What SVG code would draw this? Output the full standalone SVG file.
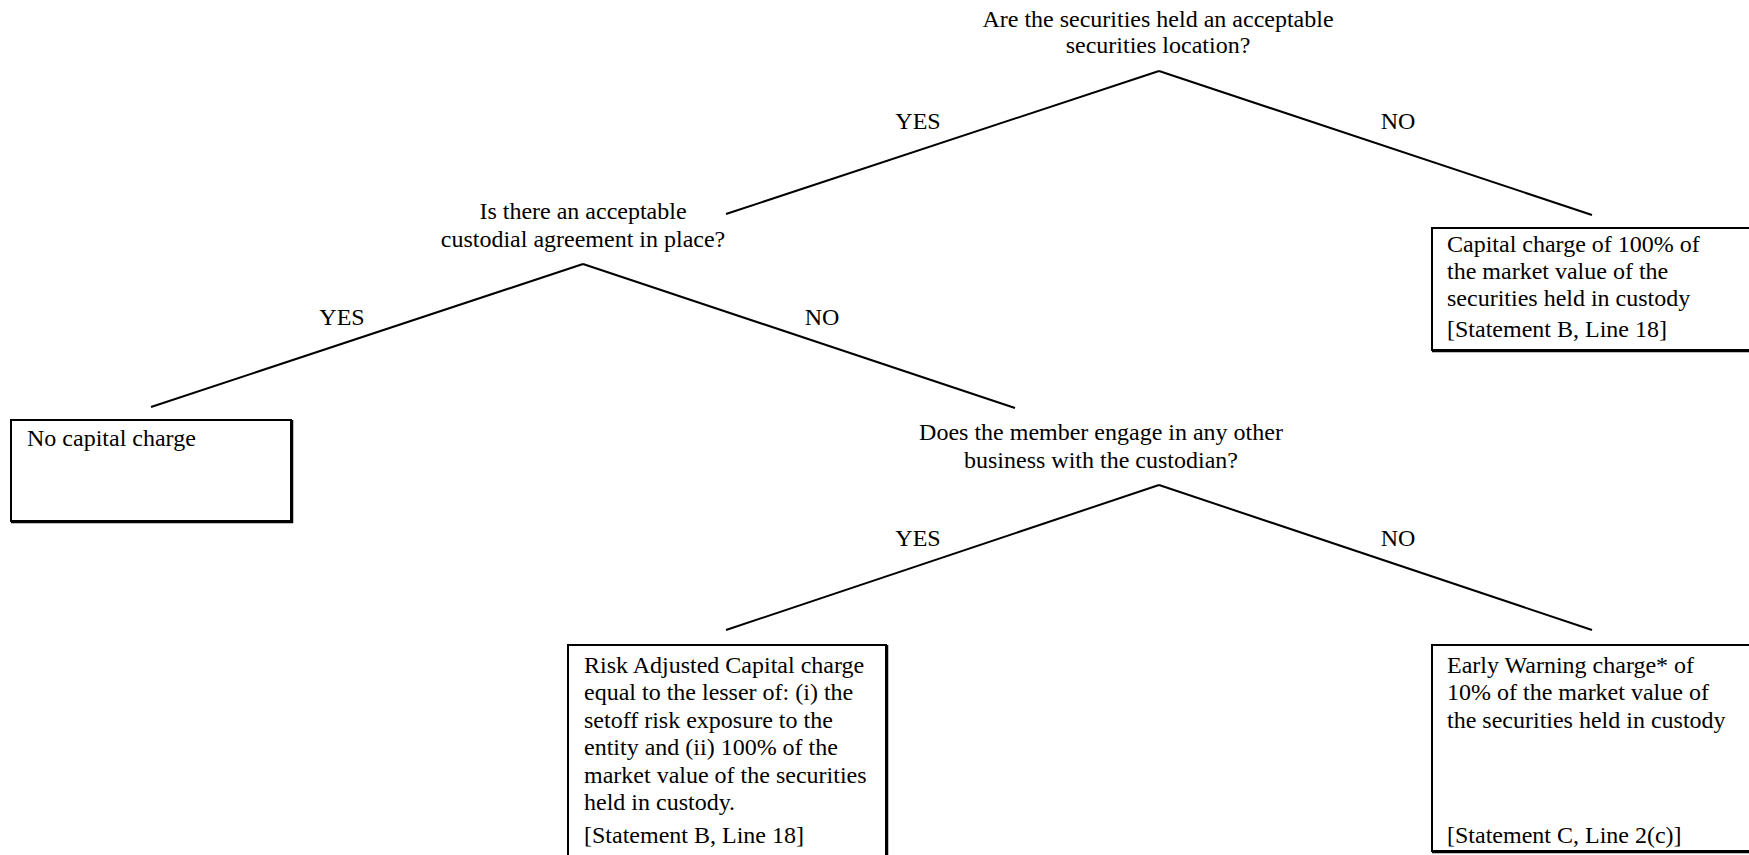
<svg xmlns="http://www.w3.org/2000/svg" width="1749" height="855" viewBox="0 0 1749 855">
<style>
text{font-family:"Liberation Serif","Times New Roman",serif;font-size:24px;fill:#000}
.c{text-anchor:middle}
.box{fill:#fff;stroke:#000;stroke-width:2}
.sh{fill:none;stroke:#000;stroke-width:1.5}
.ln{stroke:#000;stroke-width:2;fill:none}
</style>
<rect width="1749" height="855" fill="#fff"/>
<g id="connectors">
<line class="ln" x1="1159" y1="71" x2="726" y2="214"/>
<line class="ln" x1="1159" y1="71" x2="1592" y2="215"/>
<line class="ln" x1="583" y1="264" x2="151" y2="407"/>
<line class="ln" x1="583" y1="264" x2="1015" y2="408"/>
<line class="ln" x1="1159" y1="485" x2="726" y2="630"/>
<line class="ln" x1="1159" y1="485" x2="1592" y2="630"/>
<text class="c" x="918" y="129">YES</text>
<text class="c" x="1398" y="129">NO</text>
<text class="c" x="342" y="325">YES</text>
<text class="c" x="822" y="325">NO</text>
<text class="c" x="918" y="546">YES</text>
<text class="c" x="1398" y="546">NO</text>
</g>
<g id="q1">
<text class="c" x="1158" y="27">Are the securities held an acceptable</text>
<text class="c" x="1158" y="53">securities location?</text>
</g>
<g id="q2">
<text class="c" x="583" y="219">Is there an acceptable</text>
<text class="c" x="583" y="247">custodial agreement in place?</text>
</g>
<g id="q3">
<text class="c" x="1101" y="440">Does the member engage in any other</text>
<text class="c" x="1101" y="468">business with the custodian?</text>
</g>
<g id="no-charge">
<rect class="box" x="11" y="420" width="280" height="101"/>
<path class="sh" d="M292.5 420 V522.5 H11"/>
<text x="27" y="446">No capital charge</text>
</g>
<g id="full-charge">
<rect class="box" x="1432" y="228" width="340" height="122"/>
<path class="sh" d="M1432 351.5 H1760"/>
<text x="1447" y="252">Capital charge of 100% of</text>
<text x="1447" y="279">the market value of the</text>
<text x="1447" y="306">securities held in custody</text>
<text x="1447" y="337">[Statement B, Line 18]</text>
</g>
<g id="risk-adjusted">
<rect class="box" x="568" y="645" width="318" height="230"/>
<path class="sh" d="M887.5 645 V870"/>
<text x="584" y="673">Risk Adjusted Capital charge</text>
<text x="584" y="700">equal to the lesser of: (i) the</text>
<text x="584" y="728">setoff risk exposure to the</text>
<text x="584" y="755">entity and (ii) 100% of the</text>
<text x="584" y="783">market value of the securities</text>
<text x="584" y="810">held in custody.</text>
<text x="584" y="843">[Statement B, Line 18]</text>
</g>
<g id="early-warning">
<rect class="box" x="1432" y="645" width="340" height="206"/>
<path class="sh" d="M1432 852.5 H1760"/>
<text x="1447" y="673">Early Warning charge* of</text>
<text x="1447" y="700">10% of the market value of</text>
<text x="1447" y="728">the securities held in custody</text>
<text x="1447" y="843">[Statement C, Line 2(c)]</text>
</g>
</svg>
